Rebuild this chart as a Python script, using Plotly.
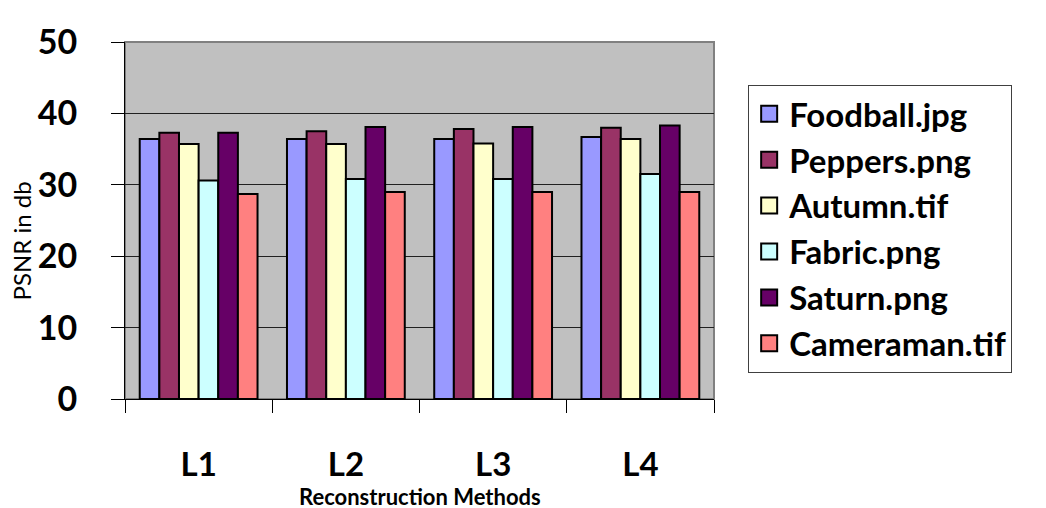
import plotly.graph_objects as go

categories = ["L1", "L2", "L3", "L4"]
series_names = ["Foodball.jpg", "Peppers.png", "Autumn.tif", "Fabric.png", "Saturn.png", "Cameraman.tif"]
foodball = [36.4, 36.4, 36.4, 36.7]
peppers = [37.3, 37.5, 37.8, 38.0]
autumn = [35.7, 35.7, 35.8, 36.4]
fabric = [30.6, 30.8, 30.8, 31.5]
saturn = [37.3, 38.1, 38.1, 38.3]
cameraman = [28.7, 29.0, 29.0, 29.0]
y_ticks = [0, 10, 20, 30, 40, 50]
x_title = "Reconstruction Methods"
y_title = "PSNR in db"

values = [foodball, peppers, autumn, fabric, saturn, cameraman]
colors = ["#9999FF", "#993366", "#FFFFCC", "#CCFFFF", "#660066", "#FF8080"]

FONT = "Lato"
fig = go.Figure()
for name, vals, col in zip(series_names, values, colors):
    fig.add_trace(go.Bar(x=categories, y=vals, name=name, marker=dict(color=col, line=dict(color="black", width=2)),
                         showlegend=False))
for name, col in zip(series_names, colors):
    fig.add_trace(go.Scatter(x=[None], y=[None], mode="markers", name=name,
                             marker=dict(symbol="square", size=16, color=col, line=dict(color="black", width=2))))

fig.update_layout(
    width=1046, height=508,
    margin=dict(l=117, r=340, t=25, b=117),
    paper_bgcolor="white", plot_bgcolor="#C0C0C0",
    barmode="group", bargap=0.2, bargroupgap=0,
    font=dict(family=FONT, color="black"),
    legend=dict(x=1.058, xanchor="left", y=0.88, yanchor="top",
                font=dict(family=FONT, size=33, weight="bold", color="black"),
                bgcolor="white", bordercolor="#404040", borderwidth=1,
                itemclick=False),
    xaxis=dict(showline=True, linecolor="black", linewidth=1, ticks="outside", tickson="boundaries",
               ticklen=13, tickcolor="black", ticklabelstandoff=36,
               tickfont=dict(family=FONT, size=33, weight="bold")),
    yaxis=dict(range=[0, 50], tickvals=y_ticks, showline=True, linecolor="black", linewidth=1,
               ticks="outside", ticklen=13, tickcolor="black", ticklabelstandoff=27,
               showgrid=True, gridcolor="#202020", gridwidth=1, zeroline=False,
               tickfont=dict(family=FONT, size=34, weight="bold")),
)
fig.add_annotation(text=x_title, xref="paper", yref="paper", x=0.5, y=0, xanchor="center", yanchor="middle",
                   yshift=-97, showarrow=False, font=dict(family=FONT, size=22, weight="bold"))
fig.add_annotation(text=y_title, xref="paper", yref="paper", x=0, y=0.5, xanchor="center", yanchor="middle",
                   xshift=-104, yshift=-21, textangle=-90, showarrow=False, font=dict(family=FONT, size=24))
fig.add_shape(type="rect", xref="paper", yref="paper", x0=0, x1=1, y0=0, y1=1,
              line=dict(color="#808080", width=2), layer="below")
fig.write_html("out.html")
